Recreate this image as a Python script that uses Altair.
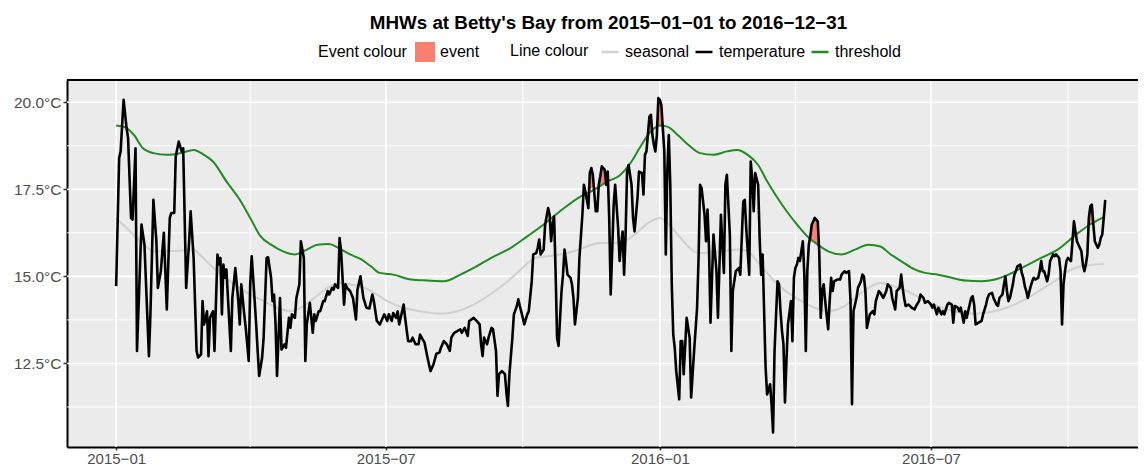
import altair as alt
import pandas as pd

START = pd.Timestamp("2015-01-01")
F = "Liberation Sans"

TITLE = "MHWs at Betty's Bay from 2015\u221201\u221201 to 2016\u221212\u221231"

# ---- data (day = days since 2015-01-01) ----
temp_day = [0, 2, 3, 5, 7, 8, 10, 11, 13, 14, 17, 19, 22, 23, 25, 27, 28, 30, 32, 34,
            36, 37, 39, 40, 42, 44, 45, 47, 49, 50, 52, 54, 55, 57, 58, 59, 61, 62, 63, 65,
            66, 68, 69, 70, 71, 72, 73, 74, 77, 78, 80, 82, 83, 84, 86, 87, 89, 90, 91, 93,
            94, 95, 96, 98, 99, 101, 102, 104, 105, 106, 107, 108, 110, 111, 113, 114, 116, 117, 118, 120,
            121, 123, 124, 126, 127, 128, 130, 131, 132, 133, 134, 136, 137, 139, 140, 142, 143, 145, 146, 147,
            149, 150, 151, 153, 154, 155, 157, 159, 161, 162, 164, 166, 168, 170, 172, 173, 175, 177, 179, 180,
            182, 183, 185, 186, 188, 189, 190, 192, 193, 194, 196, 198, 199, 201, 203, 204, 207, 209, 211, 213,
            215, 217, 218, 220, 222, 224, 225, 227, 229, 231, 232, 234, 236, 237, 240, 242, 244, 245, 246, 247,
            249, 250, 252, 253, 255, 256, 257, 259, 261, 262, 263, 264, 266, 267, 269, 270, 271, 273, 274, 276,
            277, 279, 280, 282, 283, 284, 285, 287, 288, 290, 291, 292, 293, 294, 295, 296, 297, 299, 300, 301,
            302, 303, 305, 306, 307, 308, 310, 311, 313, 314, 315, 317, 318, 319, 320, 322, 323, 324, 325, 326,
            328, 329, 330, 331, 332, 333, 334, 335, 337, 338, 339, 340, 341, 342, 343, 344, 346, 347, 348, 350,
            351, 353, 354, 355, 356, 358, 359, 360, 361, 362, 363, 364, 365, 366, 368, 369, 370, 371, 372, 373,
            374, 375, 376, 378, 379, 380, 381, 383, 385, 386, 388, 390, 391, 392, 393, 395, 396, 397, 398, 399,
            401, 403, 404, 406, 407, 408, 409, 410, 412, 413, 414, 416, 418, 419, 421, 422, 423, 425, 426, 427,
            428, 429, 431, 432, 433, 434, 436, 437, 439, 440, 441, 442, 444, 445, 446, 447, 448, 449, 450, 451,
            453, 454, 455, 456, 457, 458, 459, 461, 462, 463, 464, 465, 466, 467, 468, 469, 471, 472, 473, 474,
            475, 476, 478, 479, 480, 481, 482, 484, 486, 487, 489, 490, 492, 493, 494, 495, 497, 498, 500, 501,
            502, 503, 504, 505, 506, 508, 509, 510, 512, 513, 515, 517, 518, 520, 521, 523, 524, 526, 527, 528,
            529, 530, 532, 534, 536, 537, 539, 540, 542, 543, 545, 547, 548, 549, 551, 552, 554, 555, 556, 558,
            559, 561, 562, 563, 565, 566, 567, 569, 570, 571, 573, 574, 575, 576, 577, 579, 581, 582, 584, 585,
            586, 588, 589, 591, 592, 593, 595, 596, 597, 598, 599, 600, 602, 603, 604, 605, 607, 608, 609, 610,
            611, 612, 614, 615, 616, 617, 619, 620, 621, 622, 623, 625, 626, 627, 629, 630, 631, 633, 634, 635,
            636, 637, 638, 639, 641, 642, 643, 644, 645, 646, 648, 649, 650, 651, 652, 653, 654, 655, 656, 657,
            659, 660, 661, 662, 663, 664]
temp_val = [14.72, 18.40, 18.59, 20.07, 19.26, 18.97, 16.68, 16.63, 18.68, 12.86, 16.49, 15.91, 12.71, 13.91, 17.20, 16.01, 14.67, 15.15, 16.25, 14.05,
            16.68, 16.82, 16.82, 18.44, 18.87, 18.59, 18.68, 14.67, 16.01, 16.87, 15.53, 12.86, 12.67, 12.76, 14.29, 13.62, 14.00, 12.71, 13.81, 14.00,
            12.86, 15.63, 15.34, 15.53, 13.91, 15.34, 14.96, 15.20, 12.86, 14.38, 15.24, 14.29, 13.62, 14.77, 13.91, 13.52, 12.57, 14.77, 15.58, 14.29,
            13.62, 12.86, 12.14, 12.67, 13.24, 15.53, 15.55, 14.96, 14.29, 14.48, 13.62, 12.14, 14.38, 12.90, 13.05, 12.95, 13.81, 13.52, 13.91, 13.81,
            14.38, 14.77, 16.01, 15.53, 12.57, 13.62, 14.24, 13.81, 13.38, 13.91, 13.72, 14.00, 14.00, 14.29, 14.29, 14.58, 14.48, 14.67, 14.62, 14.77,
            14.67, 16.10, 15.72, 14.19, 14.77, 14.67, 14.58, 14.38, 13.76, 14.62, 15.00, 14.38, 14.10, 14.08, 14.48, 14.29, 13.72, 13.62, 13.81, 13.91,
            13.72, 13.91, 13.72, 13.95, 13.81, 14.00, 13.62, 14.00, 14.19, 13.81, 13.14, 13.14, 13.24, 13.05, 13.05, 13.33, 13.10, 12.67, 12.28, 12.47,
            12.78, 12.81, 12.95, 13.14, 13.05, 12.86, 13.24, 13.38, 13.43, 13.48, 13.38, 13.52, 13.29, 13.72, 13.81, 13.72, 13.62, 13.05, 12.71, 13.24,
            13.05, 13.24, 13.52, 13.48, 12.86, 11.57, 12.19, 12.28, 12.19, 11.66, 11.28, 12.19, 13.24, 13.91, 14.15, 14.34, 14.15, 13.81, 13.62, 13.91,
            14.00, 14.86, 15.63, 15.67, 15.82, 16.06, 15.63, 15.77, 16.49, 16.96, 16.77, 16.01, 16.49, 16.72, 15.15, 13.24, 13.00, 14.58, 15.05, 15.77,
            15.44, 15.05, 14.96, 14.77, 14.38, 13.62, 14.38, 15.53, 16.77, 17.63, 17.44, 16.96, 17.97, 18.11, 17.92, 16.87, 16.87, 17.63, 17.87, 18.16,
            18.06, 17.63, 18.01, 16.68, 14.48, 15.72, 17.06, 17.63, 16.39, 15.44, 15.91, 16.29, 15.05, 16.20, 18.01, 18.20, 17.63, 16.68, 16.29, 17.25,
            18.01, 17.97, 17.35, 18.49, 18.59, 19.59, 19.64, 19.06, 18.78, 18.59, 19.06, 20.12, 20.07, 19.92, 18.59, 15.63, 18.01, 19.06, 17.63, 14.77,
            13.33, 12.95, 12.28, 11.47, 13.14, 13.14, 12.19, 13.81, 13.24, 11.52, 12.86, 14.10, 15.53, 17.63, 17.54, 16.77, 16.01, 16.92, 15.82, 13.67,
            16.20, 15.15, 13.81, 16.77, 15.91, 15.10, 17.63, 17.92, 16.20, 12.86, 14.58, 15.15, 15.24, 15.05, 17.15, 17.20, 16.39, 15.05, 18.30, 17.82,
            16.87, 17.97, 17.63, 16.10, 15.05, 15.63, 12.38, 11.61, 11.90, 11.33, 10.52, 12.86, 14.86, 14.77, 14.00, 13.43, 13.05, 11.38, 12.57, 13.62,
            14.29, 13.14, 14.96, 15.24, 15.34, 15.53, 15.44, 16.01, 15.05, 12.86, 15.15, 15.91, 16.15, 16.49, 16.58, 16.68, 16.58, 15.72, 13.81, 14.58,
            14.77, 14.29, 13.48, 14.29, 14.96, 14.58, 14.86, 14.91, 14.91, 15.05, 15.15, 15.10, 15.15, 14.29, 11.33, 14.00, 14.38, 14.67, 14.86, 15.05,
            15.00, 14.58, 13.52, 13.72, 13.91, 14.00, 13.91, 14.29, 14.58, 14.53, 14.38, 14.58, 14.77, 14.67, 14.38, 14.05, 14.58, 14.67, 15.05, 14.67,
            14.38, 14.15, 14.19, 14.10, 14.05, 14.15, 14.29, 14.48, 14.38, 14.24, 14.29, 14.19, 14.10, 14.19, 13.91, 14.10, 13.91, 14.00, 13.91, 14.19,
            14.24, 14.19, 13.67, 14.15, 14.10, 14.00, 14.10, 13.67, 14.00, 13.81, 14.19, 14.38, 14.43, 14.19, 13.62, 13.67, 13.72, 13.91, 14.19, 14.38,
            14.48, 14.53, 14.38, 14.19, 14.15, 14.38, 14.48, 14.77, 15.00, 14.58, 14.29, 14.38, 14.77, 15.05, 15.15, 15.29, 15.34, 15.10, 14.96, 14.72,
            14.58, 14.38, 14.72, 14.86, 14.96, 14.91, 14.96, 15.15, 15.44, 15.15, 15.15, 14.86, 15.05, 15.44, 15.63, 15.58, 15.63, 15.53, 15.15, 13.62,
            14.77, 15.15, 15.44, 15.53, 15.44, 16.01, 16.58, 16.29, 16.01, 15.91, 15.72, 15.34, 15.15, 15.34, 15.63, 16.68, 17.01, 17.06, 16.49, 16.01,
            15.82, 15.91, 16.10, 16.20, 16.68, 17.20]

thresh_day = [0, 7, 12, 18, 25, 34, 43, 52, 59, 65, 74, 83, 90, 97, 104, 112, 120, 128, 135, 143,
              149, 157, 164, 171, 177, 186, 198, 209, 220, 231, 242, 254, 265, 276, 287, 298, 310, 321, 330, 338,
              346, 352, 359, 365, 370, 377, 384, 392, 401, 410, 417, 424, 431, 437, 444, 451, 458, 464, 471, 478,
              487, 496, 505, 513, 520, 527, 536, 543, 552, 561, 570, 581, 590, 599, 610, 621, 632, 643, 652, 663]
thresh_val = [19.33, 19.26, 19.06, 18.68, 18.54, 18.49, 18.54, 18.63, 18.49, 18.30, 17.73, 17.20, 16.68, 16.15, 15.91, 15.72, 15.63, 15.77, 15.91, 15.93,
              15.82, 15.63, 15.50, 15.29, 15.10, 15.05, 14.91, 14.88, 14.86, 15.05, 15.29, 15.58, 15.82, 16.15, 16.49, 16.87, 17.25, 17.49, 17.73, 17.90,
              18.30, 18.73, 19.16, 19.33, 19.30, 19.06, 18.78, 18.54, 18.49, 18.59, 18.63, 18.49, 18.20, 17.73, 17.25, 16.82, 16.44, 16.15, 15.91, 15.72,
              15.63, 15.77, 15.91, 15.86, 15.63, 15.44, 15.20, 15.10, 15.05, 14.96, 14.88, 14.86, 14.91, 15.05, 15.29, 15.53, 15.77, 16.15, 16.44, 16.70]

seas_day = [0, 7, 14, 21, 25, 34, 43, 52, 56, 63, 72, 81, 90, 99, 108, 117, 124, 133, 142, 149,
            157, 164, 173, 182, 193, 204, 218, 229, 240, 251, 263, 274, 281, 290, 298, 307, 316, 325, 338, 348,
            357, 365, 370, 379, 388, 392, 406, 419, 424, 433, 442, 451, 460, 469, 478, 487, 496, 505, 513, 522,
            531, 540, 549, 558, 567, 576, 585, 594, 603, 612, 621, 630, 639, 648, 657, 663]
seas_val = [16.66, 16.39, 16.10, 15.82, 15.72, 15.72, 15.74, 15.77, 15.63, 15.34, 15.00, 14.72, 14.48, 14.29, 14.10, 14.00, 14.10, 14.38, 14.67, 14.81,
            14.77, 14.72, 14.53, 14.29, 14.10, 14.00, 13.93, 14.00, 14.19, 14.48, 14.86, 15.29, 15.53, 15.58, 15.63, 15.72, 15.86, 15.96, 15.96, 16.20,
            16.53, 16.68, 16.53, 16.10, 15.72, 15.67, 15.72, 15.77, 15.72, 15.29, 14.86, 14.53, 14.29, 14.10, 14.00, 14.10, 14.38, 14.67, 14.81, 14.72,
            14.58, 14.38, 14.19, 14.05, 13.96, 13.93, 13.96, 14.05, 14.19, 14.38, 14.62, 14.86, 15.15, 15.29, 15.34, 15.36]

# event (flame) polygons: temperature above threshold during detected events
event_id = [1] * 5 + [2] * 5 + [3] * 4 + [4] * 5 + [5] * 7 + [6] * 4 + [7] * 4 + [8] * 5
event_day = [317.5, 318, 319, 320, 320.7,
             323.95, 325, 326, 328, 328.85,
             356.9, 358, 359, 359.8,
             363.23, 364, 365, 366, 366.9,
             465.7, 466, 467, 468, 469, 471, 471.8,
             604.1, 605, 607, 607.4,
             642.2, 643, 644, 644.4,
             652.8, 653, 654, 655, 655.9]
event_top = [17.51, 17.97, 18.11, 17.92, 17.56,
             17.60, 17.87, 18.16, 18.06, 17.70,
             19.04, 19.59, 19.64, 19.18,
             19.30, 20.12, 20.07, 19.92, 19.32,
             16.10, 16.15, 16.49, 16.58, 16.68, 16.58, 15.89,
             15.16, 15.29, 15.34, 15.23,
             16.12, 16.58, 16.29, 16.19,
             16.45, 16.68, 17.01, 17.06, 16.53]
event_bottom = [17.51, 17.52, 17.53, 17.55, 17.56,
                17.60, 17.63, 17.65, 17.68, 17.70,
                19.04, 19.10, 19.16, 19.18,
                19.30, 19.32, 19.33, 19.33, 19.32,
                16.10, 16.08, 16.05, 16.01, 15.98, 15.91, 15.89,
                15.16, 15.18, 15.22, 15.23,
                16.12, 16.15, 16.18, 16.19,
                16.45, 16.46, 16.49, 16.51, 16.53]

series_names = ["seasonal", "temperature", "threshold"]
series_colors = ["#D0D0D0", "#000000", "#228B22"]

x_major = ["2015-01-01", "2015-07-01", "2016-01-01", "2016-07-01"]
x_minor = ["2015-04-01", "2015-10-01", "2016-04-01", "2016-10-01"]
y_major = [12.5, 15.0, 17.5, 20.0]
y_minor = [11.25, 13.75, 16.25, 18.75]


def to_date(days):
    return START + pd.to_timedelta(pd.Series(days, dtype=float), unit="D")


def dt(s):
    t = pd.Timestamp(s)
    return alt.DateTime(year=t.year, month=t.month, date=t.day, hours=t.hour)


W, H = 1071, 367

xscale = alt.Scale(domain=[dt("2014-11-29"), dt("2016-11-17")])
yscale = alt.Scale(domain=[10.10, 20.64], nice=False, zero=False)

xaxis = alt.Axis(title=None, values=[dt(d) for d in x_major], format="%Y\u2212%m", grid=False,
                 labelFont=F, labelFontSize=15, labelColor="#4D4D4D", labelPadding=1, labelFlush=False,
                 tickColor="#333333", tickWidth=1.5, tickSize=3, domainColor="#000000", domainWidth=2)
yaxis = alt.Axis(title=None, values=y_major, labelExpr="format(datum.value, '.1f') + '\u00b0C'", grid=False,
                 labelFont=F, labelFontSize=15.5, labelColor="#4D4D4D", labelPadding=2,
                 tickColor="#333333", tickWidth=1.5, tickSize=4, domainColor="#000000", domainWidth=2)

X = alt.X("date:T", scale=xscale, axis=xaxis)

gx_minor = alt.Chart(pd.DataFrame({"date": pd.to_datetime(x_minor)})).mark_rule(
    color="white", strokeWidth=0.9).encode(x=X)
gx_major = alt.Chart(pd.DataFrame({"date": pd.to_datetime(x_major)})).mark_rule(
    color="white", strokeWidth=1.6).encode(x=X)
gy_minor = alt.Chart(pd.DataFrame({"v": y_minor})).mark_rule(
    color="white", strokeWidth=0.9).encode(y=alt.Y("v:Q", scale=yscale, axis=yaxis))
gy_major = alt.Chart(pd.DataFrame({"v": y_major})).mark_rule(
    color="white", strokeWidth=1.6).encode(y=alt.Y("v:Q", scale=yscale, axis=yaxis))

leg_event = alt.Legend(title="Event colour", orient="none", legendX=251, legendY=-38,
                       direction="horizontal", titleOrient="left", titleFont=F, titleFontSize=16,
                       titleFontWeight="normal", titleColor="black", titlePadding=8,
                       labelFont=F, labelFontSize=16, labelColor="black", labelOffset=5,
                       symbolType="square", symbolSize=400, symbolStrokeWidth=0, symbolOpacity=1)
leg_lines = alt.Legend(title="Line colour", orient="none", legendX=443, legendY=-38,
                       direction="horizontal", titleOrient="left", titleFont=F, titleFontSize=16,
                       titleFontWeight="normal", titleColor="black", titlePadding=11,
                       labelFont=F, labelFontSize=16, labelColor="black", labelOffset=5,
                       symbolType="stroke", symbolSize=289, symbolStrokeWidth=2.5, columns=3,
                       columnPadding=0)

event_df = pd.DataFrame({"date": to_date(event_day), "top": event_top, "bottom": event_bottom,
                         "eid": event_id, "kind": "event"})
events = alt.Chart(event_df).mark_area(opacity=1).encode(
    x=X,
    y=alt.Y("top:Q", scale=yscale, axis=yaxis),
    y2="bottom:Q",
    fill=alt.Fill("kind:N", scale=alt.Scale(domain=["event"], range=["#FA8072"]), legend=leg_event),
    detail="eid:N",
)

cscale = alt.Scale(domain=series_names, range=series_colors)


def line_layer(days, vals, name, width, interp):
    df = pd.DataFrame({"date": to_date(days), "value": vals, "series": name})
    return alt.Chart(df).mark_line(strokeWidth=width, strokeJoin="round", interpolate=interp).encode(
        x=X,
        y=alt.Y("value:Q", scale=yscale, axis=yaxis),
        color=alt.Color("series:N", scale=cscale, legend=leg_lines),
    )


seas_line = line_layer(seas_day, seas_val, "seasonal", 2.0, "monotone")
thresh_line = line_layer(thresh_day, thresh_val, "threshold", 2.0, "monotone")
temp_line = line_layer(temp_day, temp_val, "temperature", 2.6, "linear")

top_border = alt.Chart(pd.DataFrame({"k": [0]})).mark_rule(color="black", strokeWidth=2).encode(
    x=alt.value(0), x2=alt.value(W), y=alt.value(0))

chart = alt.layer(
    gx_minor, gy_minor, gx_major, gy_major, events, seas_line, thresh_line, temp_line, top_border
).properties(
    width=W, height=H,
    title=alt.TitleParams(text=TITLE, font=F, fontSize=18.8, fontWeight="bold", color="black",
                          anchor="middle", frame="group", offset=9, dx=6),
    padding={"left": 59, "top": 72, "right": 0, "bottom": 21},
    autosize="none",
).configure_view(stroke=None, fill="#EBEBEB")

chart.save("out.html", embed_options={"renderer": "svg", "actions": False})
